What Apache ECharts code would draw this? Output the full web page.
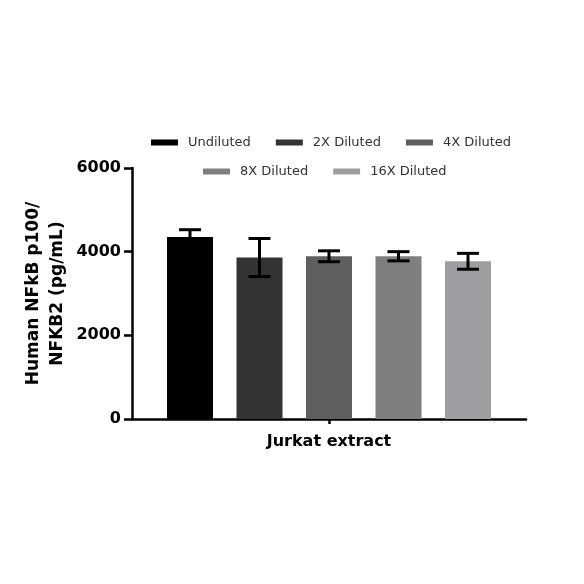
<!DOCTYPE html>
<html>
<head>
<meta charset="utf-8">
<script src="https://cdn.jsdelivr.net/npm/echarts@6/dist/echarts.min.js"></script>
<style>
  html, body { margin: 0; padding: 0; background: #fff; }
  #chart { width: 584px; height: 584px; }
</style>
</head>
<body>
<div id="chart"></div>
<script>
// data
const categories = ['Jurkat extract']
const seriesNames = ['Undiluted', '2X Diluted', '4X Diluted', '8X Diluted', '16X Diluted']
const means = [4350, 3860, 3890, 3890, 3770]
const errors = [175, 455, 130, 110, 190]
const yTicks = [0, 2000, 4000, 6000]

const colors = ['#000000', '#333333', '#5e5e5e', '#7f7f7f', '#9e9ea0']
const font = '"DejaVu Sans", sans-serif'

const BAR_W = 46
const BAR_GAP = 23.5

const chart = echarts.init(document.getElementById('chart'))

const barSeries = seriesNames.map((name, i) => ({
    name: name,
    type: 'bar',
    data: [means[i]],
    barWidth: BAR_W,
    barGap: (BAR_GAP / BAR_W * 100) + '%',
    itemStyle: { color: colors[i] },
    z: 2,
}))

// error bars, drawn over the bars (lower whisker of the black bar disappears in it)
const errorSeries = seriesNames.map((name, i) => ({
    type: 'custom',
    name: name + ' err',
    z: 5,
    data: [[0, means[i] - errors[i], means[i] + errors[i]]],
    renderItem: (params, api) => {
        const offset = (i - 2) * (BAR_W + BAR_GAP)
        const lo = api.coord([api.value(0), api.value(1)])
        const hi = api.coord([api.value(0), api.value(2)])
        const x = lo[0] + offset
        const half = 11
        const style = { stroke: '#000', lineWidth: 3 }
        return {
            type: 'group',
            children: [
                { type: 'line', shape: { x1: x, y1: hi[1], x2: x, y2: lo[1] }, style },
                { type: 'line', shape: { x1: x - half, y1: hi[1], x2: x + half, y2: hi[1] }, style },
                { type: 'line', shape: { x1: x - half, y1: lo[1], x2: x + half, y2: lo[1] }, style },
            ],
        }
    },
}))

const legendBase = {
    orient: 'horizontal',
    icon: 'rect',
    itemWidth: 27,
    itemHeight: 6,
    itemGap: 25,
    textStyle: {
        fontFamily: font,
        fontSize: 13,
        color: '#333',
        padding: [0, 0, 0, 5],
    },
    selectedMode: false,
}

chart.setOption({
    animation: false,
    backgroundColor: '#fff',
    color: colors,
    legend: [
        Object.assign({}, legendBase, { left: 146, top: 131, data: seriesNames.slice(0, 3) }),
        Object.assign({}, legendBase, { left: 198, top: 160, data: seriesNames.slice(3) }),
    ],
    grid: {
        left: 132,
        right: 58,
        top: 168,
        bottom: 165,
        containLabel: false,
    },
    xAxis: {
        type: 'category',
        data: categories,
        name: categories[0],
        nameLocation: 'middle',
        nameGap: 15,
        nameTextStyle: { fontFamily: font, fontSize: 16, fontWeight: 'bold', color: '#000' },
        axisLine: { lineStyle: { color: '#000', width: 2.5 } },
        axisTick: { show: true, alignWithLabel: true, interval: 0, length: 5, lineStyle: { color: '#000', width: 2.5 } },
        axisLabel: { show: false },
    },
    yAxis: {
        type: 'value',
        min: yTicks[0],
        max: yTicks[yTicks.length - 1],
        interval: 2000,
        name: 'Human NFkB p100/\nNFKB2 (pg/mL)',
        nameLocation: 'middle',
        nameGap: 62,
        nameMoveOverlap: false,
        nameTextStyle: { fontFamily: font, fontSize: 17, fontWeight: 'bold', color: '#000', lineHeight: 24 },
        axisLine: { show: true, lineStyle: { color: '#000', width: 2.5 } },
        axisTick: { show: true, length: 8, lineStyle: { color: '#000', width: 2.5 } },
        axisLabel: {
            fontFamily: font, fontSize: 16, fontWeight: 'bold', color: '#000', margin: 11,
            formatter: (v) => String(v),
        },
        splitLine: { show: false },
    },
    series: barSeries.concat(errorSeries),
})
</script>
</body>
</html>
